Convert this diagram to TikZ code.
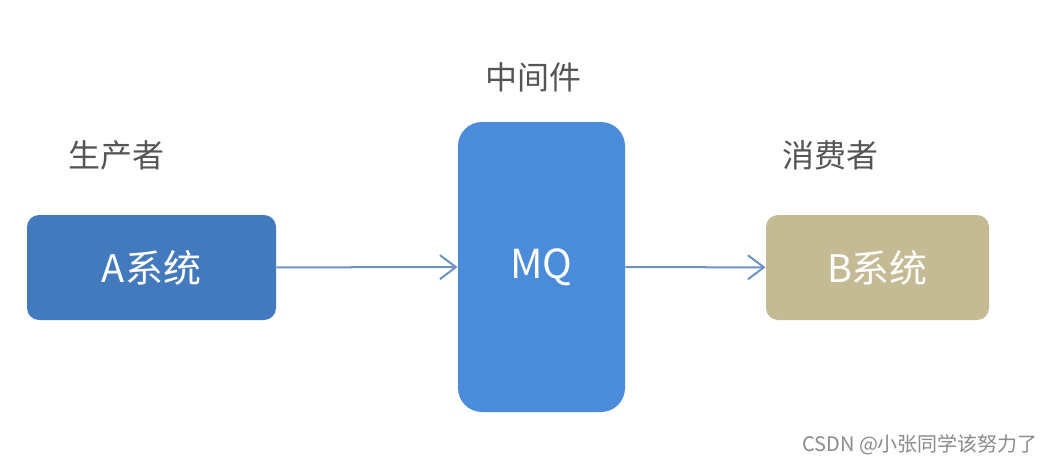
\documentclass[tikz,border=0pt]{standalone}
\usepackage{fontspec}
\setmainfont{Noto Sans CJK SC}
\usetikzlibrary{arrows.meta,positioning}
\definecolor{sysblue}{HTML}{437ABD}
\definecolor{mqblue}{HTML}{4A8BDA}
\definecolor{sysbeige}{HTML}{C4BA94}
\definecolor{linkblue}{HTML}{6B94C6}
\definecolor{labelgray}{HTML}{555555}
\definecolor{markgray}{HTML}{8A8A8A}

\begin{document}
\begin{tikzpicture}[x=0.5pt, y=-0.5pt,
  box/.style={rounded corners=6pt, fill=#1, draw=none, text=white,
    font=\fontsize{19}{21}\selectfont, inner sep=0pt},
  role/.style={text=labelgray, font=\fontsize{16}{18}\selectfont},
  link/.style={draw=linkblue, line width=1pt, -{Straight Barb[length=8pt, width=12pt]}}]
  \useasboundingbox (0,0) rectangle (1053,466);
  \node[box=sysblue, minimum width=124.5pt, minimum height=52.5pt] (asys) at (151.5,267.5) {A系统};
  \node[box=mqblue, rounded corners=12pt, minimum width=83.5pt, minimum height=145pt, font=\fontsize{20}{22}\selectfont] (mq) at (541.5,267) {MQ};
  \node[box=sysbeige, minimum width=111.5pt, minimum height=52.5pt] (bsys) at (877.5,267.5) {B系统};
  \node[role] (producer) at (116,155) {生产者};
  \node[role] (middle) at (533,77) {中间件};
  \node[role] (consumer) at (830,155) {消费者};
  \draw[link] (asys) -- (mq);
  \draw[link] (mq) -- (bsys);
  \node[anchor=east, text=markgray, font=\fontsize{10}{12}\selectfont] (mark) at (1045,445) {CSDN @小张同学该努力了};
\end{tikzpicture}
\end{document}
